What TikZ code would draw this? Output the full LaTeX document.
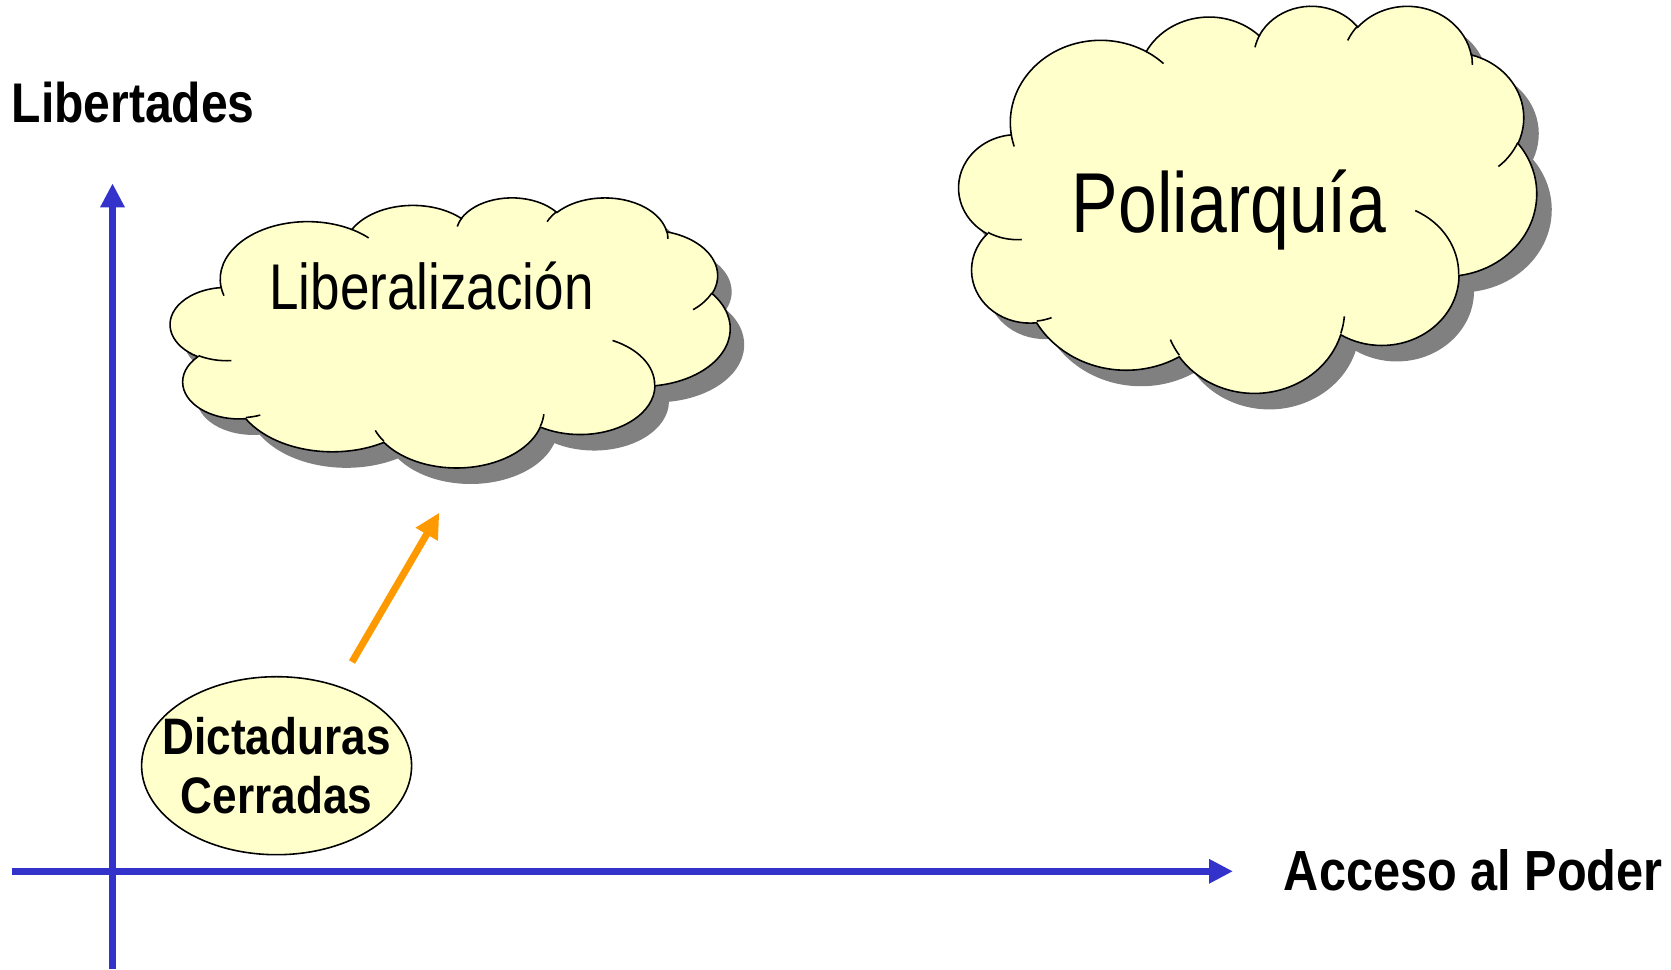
\documentclass[tikz,border=0pt]{standalone}
\usepackage{fontspec}
\usetikzlibrary{arrows.meta,shapes.geometric}
\newfontfamily\ejefont[FakeStretch=0.86]{Liberation Sans}
\newfontfamily\nubefont[FakeStretch=0.82]{Liberation Sans}
\definecolor{azul}{HTML}{3333CC}
\definecolor{naranja}{HTML}{FF9900}
\definecolor{crema}{HTML}{FFFFCC}
\definecolor{sombra}{HTML}{808080}

% arco con angulos "visuales" (como en la forma nube de PowerPoint)
\tikzset{
  ooarc/.style n args={4}{x radius=#1, y radius=#2,
    start angle={atan2(#1*sin(#3),#2*cos(#3))},
    delta angle={mod(atan2(#1*sin(#3+#4),#2*cos(#3+#4))-atan2(#1*sin(#3),#2*cos(#3))+720,360)}}
}
% contorno de la nube, caja 43.2 x 43.2, y hacia abajo
\newcommand\nubecontorno{(3.900,14.370)
  arc[ooarc={6.753}{9.190}{-190.4875}{123.7805}]
  arc[ooarc={5.333}{7.267}{-144.1024}{89.9452}]
  arc[ooarc={4.365}{5.945}{-145.8079}{99.7230}]
  arc[ooarc={4.857}{6.595}{-130.9861}{117.2417}]
  arc[ooarc={5.333}{7.273}{-78.7089}{109.0269}]
  arc[ooarc={6.775}{9.220}{-46.2673}{130.2690}]
  arc[ooarc={5.785}{7.867}{0.6250}{114.0333}]
  arc[ooarc={6.752}{9.215}{22.4516}{115.1726}]
  arc[ooarc={7.720}{10.543}{66.2426}{75.7110}]
  arc[ooarc={4.360}{5.918}{-274.9421}{146.7356}]
  arc[ooarc={4.345}{5.945}{-246.8285}{152.5189}] -- cycle}
% pliegues interiores
\newcommand\nubepliegues{%
  (4.693,26.177) arc[ooarc={4.345}{5.945}{86.742}{26.4295}]
  (6.928,34.899) arc[ooarc={4.360}{5.918}{73.6105}{11.4475}]
  (16.478,39.090) arc[ooarc={6.752}{9.215}{137.6242}{14.0811}]
  (28.827,34.751) arc[ooarc={6.752}{9.215}{6.4533}{15.9984}]
  (34.129,22.954) arc[ooarc={5.785}{7.867}{-70.2924}{70.9174}]
  (41.798,15.354) arc[ooarc={5.333}{7.273}{30.3180}{27.7515}]
  (38.324,5.426) arc[ooarc={4.857}{6.595}{-13.7443}{14.8589}]
  (29.078,3.952) arc[ooarc={4.857}{6.595}{-149.1815}{18.1954}]
  (22.141,4.720) arc[ooarc={4.365}{5.945}{-163.4943}{17.6864}]
  (14.000,5.192) arc[ooarc={6.753}{9.190}{-66.7070}{12.3194}]
  (4.127,15.789) arc[ooarc={6.753}{9.190}{157.6544}{11.8582}]}

\begin{document}
\begin{tikzpicture}[
    eje/.style={azul, line width=2.1pt, -{Triangle[length=2.4mm,width=2.3mm]}},
    flecha/.style={naranja, line width=2pt, -{Triangle[length=2.5mm,width=2.4mm]}},
    nube/.style={fill=crema, draw=black, line width=0.45pt},
    pliegue/.style={draw=black, line width=0.45pt},
    rotulo/.style={inner sep=0pt, anchor=base},
    nubelib/.style={shift={(1.705,7.72)}, xscale=0.12951, yscale=-0.0625},
    nubepoli/.style={shift={(9.59,9.64)}, xscale=0.13368, yscale=-0.08958}]
  \useasboundingbox (0,0) rectangle (16.71,9.69);

  % ejes
  \coordinate (xizq) at (0.12,0.977);
  \coordinate (xder) at (12.33,0.977);
  \coordinate (yabajo) at (1.125,0);
  \coordinate (yarriba) at (1.125,7.857);
  \draw[eje] (xizq) -- (xder);
  \draw[eje] (yabajo) -- (yarriba);
  \node[rotulo, font=\ejefont\bfseries\fontsize{15.9pt}{18pt}\selectfont] (libertades) at (1.332,8.46) {Libertades};
  \node[rotulo, font=\ejefont\bfseries\fontsize{16.1pt}{18pt}\selectfont] (acceso) at (14.733,0.79) {Acceso al Poder};

  % nubes
  \fill[sombra, shift={(0.14,-0.16)}, nubelib] \nubecontorno;
  \path[nube, nubelib] \nubecontorno;
  \draw[pliegue, nubelib] \nubepliegues;
  \fill[sombra, shift={(0.15,-0.16)}, nubepoli] \nubecontorno;
  \path[nube, nubepoli] \nubecontorno;
  \draw[pliegue, nubepoli] \nubepliegues;
  \node[rotulo, font=\nubefont\fontsize{18.4pt}{20pt}\selectfont] (lib) at (4.316,6.60) {Liberalización};
  \node[rotulo, font=\nubefont\fontsize{24.2pt}{26pt}\selectfont] (poli) at (12.29,7.37) {Poliarquía};

  \node[ellipse, fill=crema, draw=black, line width=0.45pt, minimum width=2.70cm, minimum height=1.78cm,
        inner xsep=-4mm, inner ysep=0pt, align=center, font=\ejefont\bfseries\fontsize{14.6pt}{16.8pt}\selectfont]
        (dict) at (2.766,2.033) {Dictaduras\\Cerradas};

  \coordinate (salida) at (3.52,3.07);
  \coordinate (llegada) at (4.393,4.563);
  \draw[flecha] (salida) -- (llegada);
\end{tikzpicture}
\end{document}
